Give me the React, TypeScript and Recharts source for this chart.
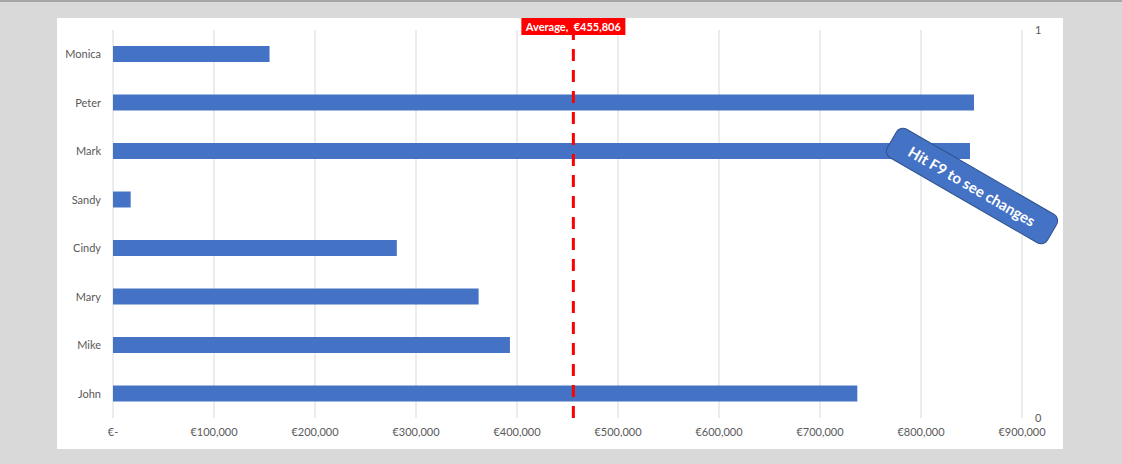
import React from 'react';
import {
  BarChart,
  Bar,
  XAxis,
  YAxis,
  CartesianGrid,
  ReferenceLine,
} from 'recharts';

// names listed top to bottom as they appear in the chart
const names = ['Monica', 'Peter', 'Mark', 'Sandy', 'Cindy', 'Mary', 'Mike', 'John'];
const sales = [155000, 852500, 848500, 17500, 281000, 362000, 393000, 736948];
const xTicks = [0, 100000, 200000, 300000, 400000, 500000, 600000, 700000, 800000, 900000];

const data = names.map((name, i) => ({ name, value: sales[i] }));
const average = Math.round(sales.reduce((s, v) => s + v, 0) / sales.length);

// secondary axis (0..1) used by the average line; recharts spans it over row indices
const lastRow = names.length - 1;
const rightTicks = [0, lastRow];

const FONT = 'Lato, "Open Sans", sans-serif';
const AXIS_TEXT = '#595959';

const euro = (v: number) => (v === 0 ? '€-' : '€' + v.toLocaleString('en-US'));

const AverageLabel = ({ viewBox }: { viewBox?: { x: number; y: number } }) => {
  if (!viewBox) return null;
  const { x } = viewBox;
  const w = 104;
  return (
    <g>
      <rect x={x - w / 2} y={0} width={w} height={17} fill="#ff0000" />
      <text
        x={x}
        y={12.5}
        textAnchor="middle"
        fill="#ffffff"
        fontSize={11}
        fontWeight={700}
        fontFamily={FONT}
      >
        {`Average,\u00a0 ${euro(average)}`}
      </text>
    </g>
  );
};

const App: React.FC = () => {
  return (
    <div
      style={{
        position: 'fixed',
        left: 0,
        top: 0,
        width: 1122,
        height: 464,
        background: '#d9d9d9',
        overflow: 'hidden',
        fontFamily: FONT,
      }}
    >
      <div style={{ position: 'absolute', left: 0, top: 0, width: 1122, height: 2, background: '#a6a6a6' }} />
      <div style={{ position: 'absolute', left: 57, top: 18, width: 1006, height: 431, background: '#ffffff' }}>
        <BarChart
          width={1006}
          height={431}
          data={data}
          layout="vertical"
          margin={{ top: 12, right: 0, bottom: 0, left: 0 }}
        >
          <CartesianGrid horizontal={false} stroke="#d9d9d9" />
          <XAxis
            type="number"
            dataKey="value"
            domain={[0, 900000]}
            ticks={xTicks}
            tickFormatter={euro}
            axisLine={false}
            tickLine={false}
            tickMargin={4}
            height={31}
            interval={0}
            tick={{ fill: AXIS_TEXT, fontSize: 11, fontFamily: FONT }}
          />
          <YAxis
            type="category"
            dataKey="name"
            width={56}
            axisLine={false}
            tickLine={false}
            tickMargin={6}
            interval={0}
            tick={{ fill: AXIS_TEXT, fontSize: 11, fontFamily: FONT }}
          />
          <YAxis
            yAxisId="right"
            orientation="right"
            type="number"
            reversed
            ticks={rightTicks}
            tickFormatter={(v: number) => String(v / lastRow)}
            width={41}
            axisLine={false}
            tickLine={false}
            tickMargin={7}
            tick={{ fill: AXIS_TEXT, fontSize: 11, fontFamily: FONT }}
          />
          <Bar dataKey="value" fill="#4472c4" barSize={16} isAnimationActive={false} />
          <ReferenceLine
            x={average}
            stroke="#ff0000"
            strokeWidth={3}
            strokeDasharray="12 9"
            label={<AverageLabel />}
          />
        </BarChart>
      </div>
      <div
        style={{
          position: 'absolute',
          left: 972 - 93,
          top: 186 - 17,
          width: 186,
          height: 34,
          boxSizing: 'border-box',
          background: '#4472c4',
          border: '1.5px solid #2f528f',
          borderRadius: 8,
          transform: 'rotate(30deg)',
          color: '#ffffff',
          fontWeight: 700,
          fontSize: 15,
          display: 'flex',
          alignItems: 'center',
          justifyContent: 'center',
          whiteSpace: 'nowrap',
        }}
      >
        Hit F9 to see changes
      </div>
    </div>
  );
};

export default App;
